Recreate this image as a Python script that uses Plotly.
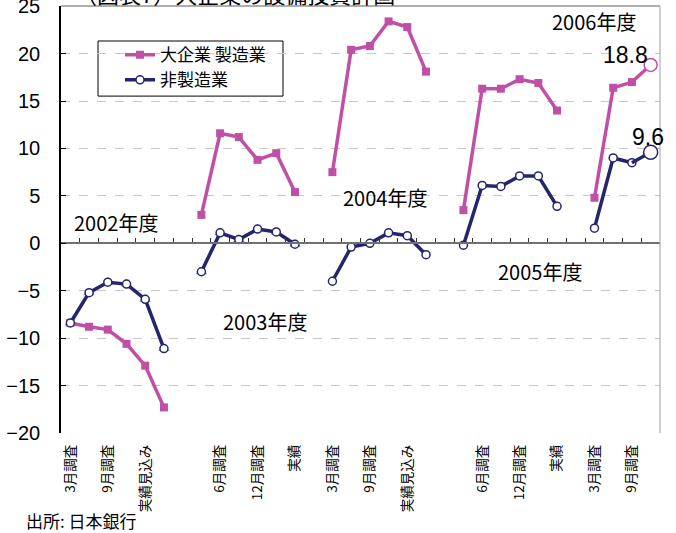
import plotly.graph_objects as go

# ---- data ----
categories = ["3月調査", "", "9月調査", "", "実績見込み", "", "", "",
              "6月調査", "", "12月調査", "", "実績", "", "3月調査", "",
              "9月調査", "", "実績見込み", "", "", "", "6月調査", "",
              "12月調査", "", "実績", "", "3月調査", "", "9月調査", ""]
mfg = [-8.4, -8.8, -9.1, -10.6, -12.9, -17.3, None,
       3.0, 11.6, 11.2, 8.8, 9.5, 5.4, None,
       7.5, 20.4, 20.8, 23.4, 22.8, 18.1, None,
       3.5, 16.3, 16.3, 17.3, 16.9, 14.0, None,
       4.8, 16.4, 17.0, 18.8]
nonmfg = [-8.4, -5.2, -4.1, -4.3, -5.9, -11.1, None,
          -3.0, 1.1, 0.4, 1.5, 1.2, -0.1, None,
          -4.0, -0.4, 0.0, 1.1, 0.8, -1.2, None,
          -0.2, 6.1, 6.0, 7.1, 7.1, 3.9, None,
          1.6, 9.0, 8.5, 9.6]
prior_count = 13  # light-blue triangle markers shown behind first two years
year_labels = ["2002年度", "2003年度", "2004年度", "2005年度", "2006年度"]
year_pos = [(2.44, 2.2), (10.4, -8.2), (16.8, 4.84), (25.1, -2.95), (27.97, 23.4)]
y_ticks = [-20, -15, -10, -5, 0, 5, 10, 15, 20, 25]

MAG = "#c04fa6"
NAVY = "#25256e"
LBLUE = "#5d93d3"
JP = "Noto Sans CJK JP"
NUM = "Liberation Sans Narrow, Liberation Sans, Arial"

x = list(range(len(categories)))
n = len(categories)

fig = go.Figure()

fig.add_trace(go.Scatter(
    x=x[:prior_count], y=nonmfg[:prior_count], mode="markers",
    marker=dict(symbol="triangle-up", size=10, color=LBLUE),
    showlegend=False, hoverinfo="skip"))

fig.add_trace(go.Scatter(
    x=x[:-1], y=mfg[:-1], mode="lines+markers", name="大企業 製造業",
    line=dict(color=MAG, width=3.5),
    marker=dict(symbol="square", size=8, color=MAG),
    connectgaps=False))
fig.add_trace(go.Scatter(
    x=x[:-1], y=nonmfg[:-1], mode="lines+markers", name="非製造業",
    line=dict(color=NAVY, width=3.5),
    marker=dict(symbol="circle", size=8, color="white",
                line=dict(color=NAVY, width=1.5)),
    connectgaps=False))

fig.add_trace(go.Scatter(
    x=x[-2:], y=mfg[-2:], mode="lines",
    line=dict(color=MAG, width=3.5), showlegend=False))
fig.add_trace(go.Scatter(
    x=x[-2:], y=nonmfg[-2:], mode="lines",
    line=dict(color=NAVY, width=3.5), showlegend=False))
fig.add_trace(go.Scatter(
    x=[x[-1]], y=[mfg[-1]], mode="markers",
    marker=dict(symbol="circle", size=13, color="white",
                line=dict(color=MAG, width=1.5)),
    showlegend=False))
fig.add_trace(go.Scatter(
    x=[x[-1]], y=[nonmfg[-1]], mode="markers",
    marker=dict(symbol="circle", size=14, color="white",
                line=dict(color=NAVY, width=1.5)),
    showlegend=False))

fig.add_trace(go.Scatter(x=[0], y=[0], xaxis="x2", mode="markers",
                         marker=dict(opacity=0), showlegend=False,
                         hoverinfo="skip"))

annotations = []
for lab, (ax, ay) in zip(year_labels, year_pos):
    annotations.append(dict(x=ax, y=ay, text=lab, showarrow=False,
                            font=dict(family=JP, size=20, color="black")))
annotations.append(dict(x=x[-1] - 1.35, y=mfg[-1] + 1.1, text=f"{mfg[-1]:.1f}",
                        showarrow=False, font=dict(family=NUM, size=23, color="black")))
annotations.append(dict(x=x[-1] - 0.14, y=nonmfg[-1] + 1.6, text=f"{nonmfg[-1]:.1f}",
                        showarrow=False, font=dict(family=NUM, size=23, color="black")))
annotations.append(dict(xref="paper", yref="paper", x=-0.062, y=-0.205,
                        xanchor="left", yanchor="middle", text="出所: 日本銀行",
                        showarrow=False, font=dict(family=JP, size=17, color="black")))
annotations.append(dict(xref="paper", yref="paper", x=0.02, y=1.0,
                        xanchor="left", yanchor="bottom", yshift=-5,
                        text="（図表7）大企業の設備投資計画",
                        showarrow=False, font=dict(family=JP, size=22, color="black")))

shapes = [
    dict(type="line", xref="paper", yref="paper", x0=0, x1=1, y0=1, y1=1,
         line=dict(color="#606060", width=1.2)),
    dict(type="line", xref="paper", yref="paper", x0=1, x1=1, y0=0, y1=1,
         line=dict(color="#a0a0a0", width=1)),
    dict(type="rect", xref="paper", yref="paper", x0=0.0618, x1=0.3706,
         y0=0.789, y1=0.918, line=dict(color="black", width=1),
         fillcolor="white", layer="below"),
]

fig.update_layout(
    width=676, height=533,
    margin=dict(l=61, r=16, t=6, b=100, autoexpand=False),
    plot_bgcolor="white", paper_bgcolor="white",
    font=dict(family=JP, color="black"),
    xaxis=dict(range=[-0.5, n - 0.5], tickmode="array", tickvals=x,
               ticktext=categories, tickangle=-90, ticks="",
               showgrid=False, zeroline=False, showline=False,
               automargin=False,
               tickfont=dict(family=JP, size=13.5, color="black"),
               ticklabelstandoff=8),
    xaxis2=dict(range=[-0.5, n - 0.5], overlaying="x", anchor="free",
                position=20 / 45, side="bottom", showline=True,
                linecolor="#707070", linewidth=2, ticks="inside",
                tickmode="array", tickvals=[i + 0.5 for i in range(n - 1)],
                ticklen=4, tickcolor="#303030", showticklabels=False,
                showgrid=False, zeroline=False, automargin=False),
    yaxis=dict(range=[-20, 25.02], tickmode="array", tickvals=y_ticks,
               showline=True, ticklabeloverflow="allow", automargin=False,
               linecolor="black", linewidth=1.5, ticks="inside", ticklen=5,
               tickcolor="black", showgrid=True, gridcolor="#c8c8c8",
               griddash="dash", gridwidth=1, zeroline=False,
               tickfont=dict(family=NUM, size=20, color="black"),
               ticklabelstandoff=15),
    legend=dict(x=0.0985, y=0.927, xanchor="left", yanchor="top",
                borderwidth=0, bgcolor="rgba(0,0,0,0)",
                font=dict(family=JP, size=17, color="black"),
                itemwidth=30),
    annotations=annotations,
    shapes=shapes,
    showlegend=True,
)

fig.write_html("out.html")
